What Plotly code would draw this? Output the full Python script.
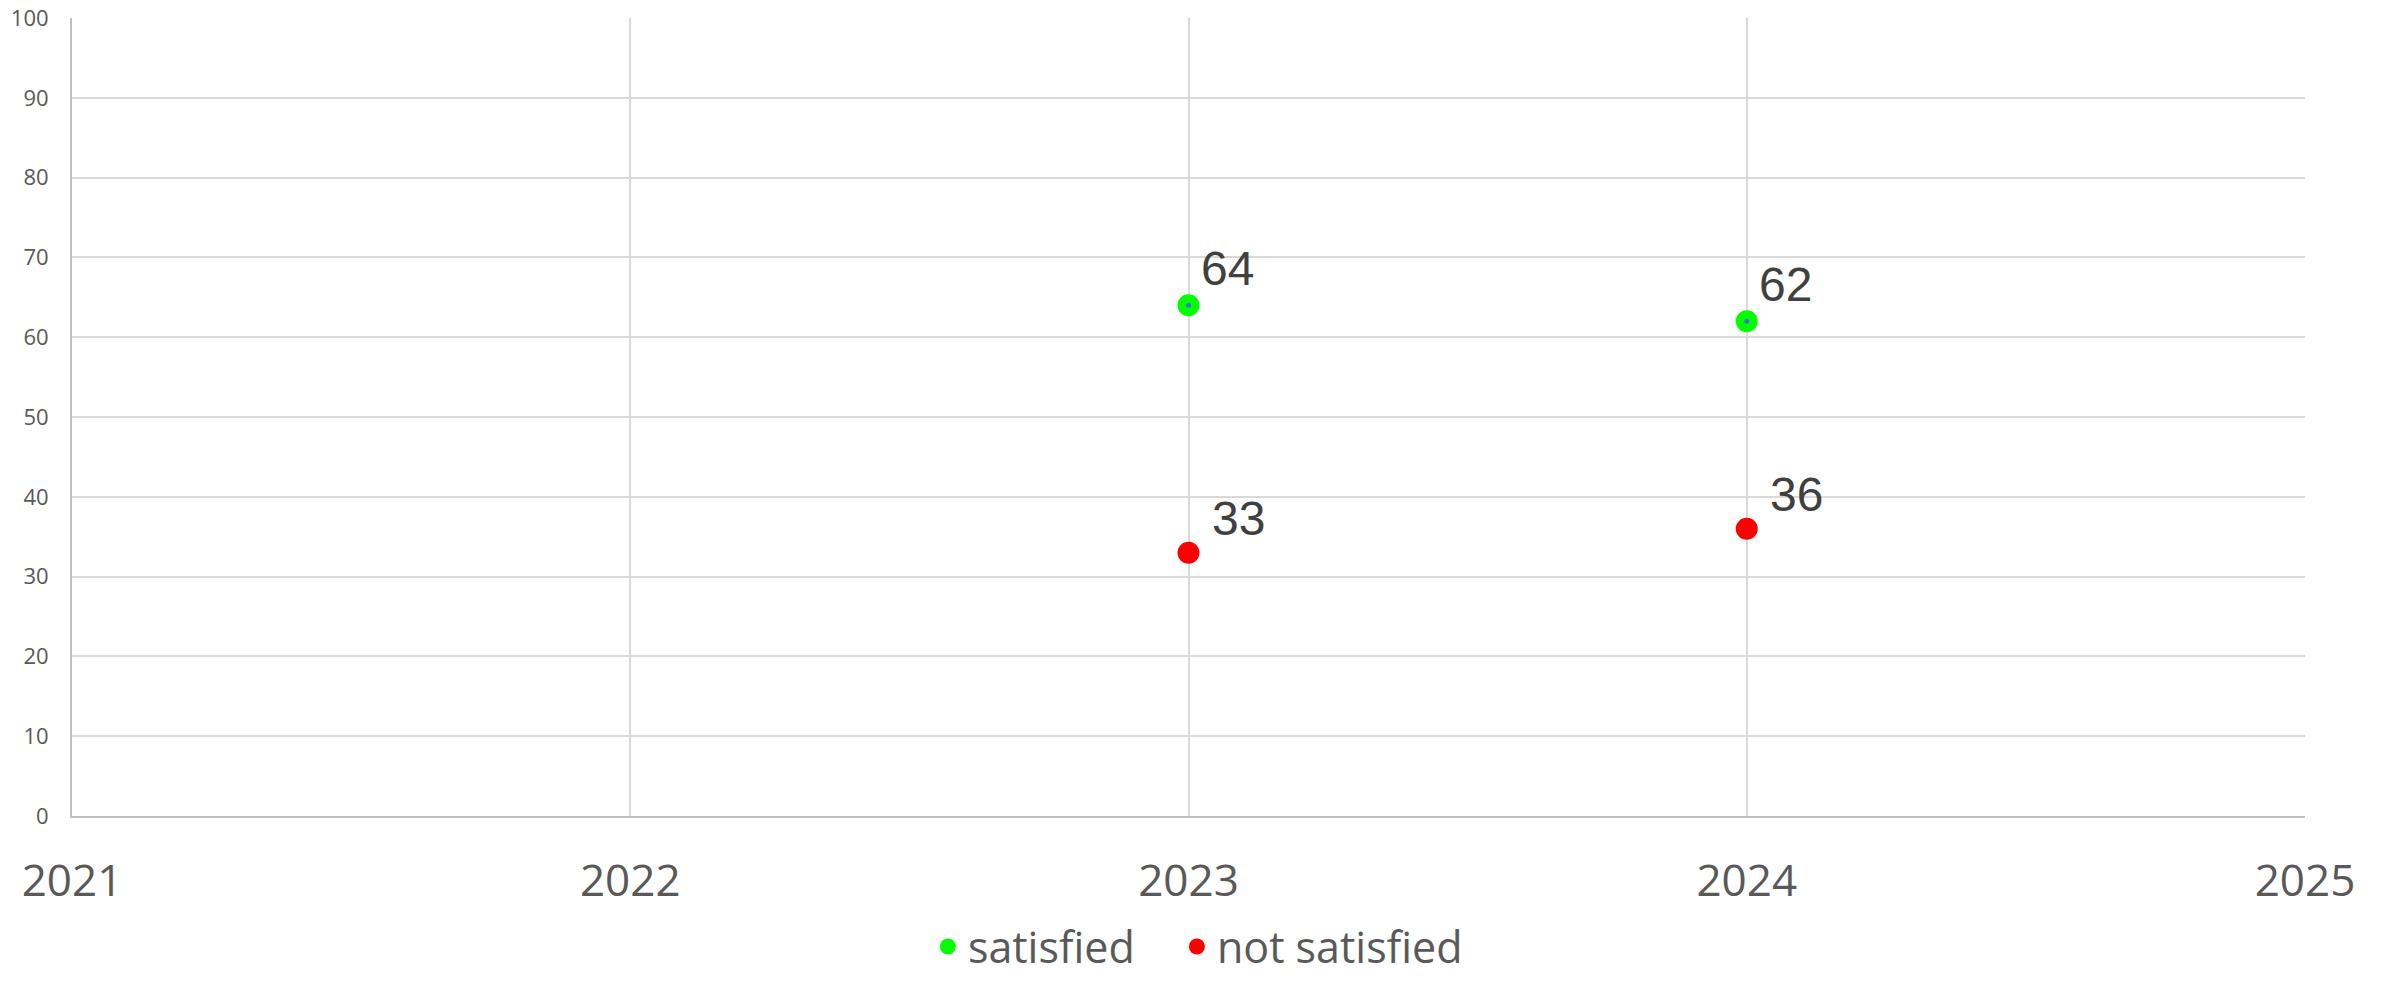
import plotly.graph_objects as go

years = [2023, 2024]
satisfied = [64, 62]
not_satisfied = [33, 36]
series_names = ["satisfied", "not satisfied"]
x_ticks = [2021, 2022, 2023, 2024, 2025]
y_ticks = [0, 10, 20, 30, 40, 50, 60, 70, 80, 90, 100]

GREEN = "#00FF00"
RED = "#FF0000"
DOT = "#4472C4"
TICK = "#595959"
LABEL = "#404040"
GRID = "#D9D9D9"
AXIS = "#BFBFBF"

fig = go.Figure()
fig.add_trace(go.Scatter(
    x=years, y=satisfied, mode="markers", name=series_names[0], legend="legend",
    marker=dict(color=GREEN, size=22, line=dict(width=0)),
    hoverinfo="x+y"))
fig.add_trace(go.Scatter(
    x=years, y=satisfied, mode="markers", showlegend=False,
    marker=dict(color=DOT, size=5, line=dict(width=0)), hoverinfo="skip"))
fig.add_trace(go.Scatter(
    x=years, y=not_satisfied, mode="markers", name=series_names[1], legend="legend2",
    marker=dict(color=RED, size=22, line=dict(width=0)),
    hoverinfo="x+y"))

annotations = []
for vals, xs, ys in ((satisfied, 10, 8), (not_satisfied, 21, 6)):
    for xv, yv in zip(years, vals):
        annotations.append(dict(
            x=xv, y=yv, xref="x", yref="y", text=str(yv), showarrow=False,
            xanchor="left", yanchor="bottom", xshift=xs, yshift=ys,
            font=dict(family="Liberation Sans, Arial", size=48, color=LABEL)))

legend_common = dict(orientation="h", y=-0.2068, yanchor="bottom",
                     font=dict(family="Open Sans", size=43, color=TICK),
                     bgcolor="rgba(0,0,0,0)")

fig.update_layout(
    width=2384, height=981,
    margin=dict(l=72, r=79, t=18, b=165, autoexpand=False),
    paper_bgcolor="white", plot_bgcolor="white",
    font=dict(family="Open Sans", color=TICK),
    showlegend=True,
    legend=dict(x=0.3833, xanchor="left", **legend_common),
    legend2=dict(x=0.4948, xanchor="left", **legend_common),
    annotations=annotations,
)
fig.update_xaxes(
    range=[2021, 2025], tickvals=x_ticks, ticktext=[str(v) for v in x_ticks],
    showgrid=True, gridcolor=GRID, gridwidth=2, zeroline=False,
    showline=True, linecolor=AXIS, linewidth=2,
    ticks="", tickfont=dict(family="Open Sans", size=44, color=TICK),
    ticklabelstandoff=25)
fig.update_yaxes(
    range=[0, 100], tickvals=y_ticks,
    showgrid=True, gridcolor=GRID, gridwidth=2, zeroline=False,
    showline=True, linecolor=AXIS, linewidth=2,
    ticks="", tickfont=dict(family="Open Sans", size=22, color=TICK),
    ticklabelstandoff=17)

fig.write_html(
    "out.html",
    config={"displayModeBar": False},
    post_script="document.body.style.margin='0';document.documentElement.style.overflow='hidden';document.body.style.overflow='hidden';")
